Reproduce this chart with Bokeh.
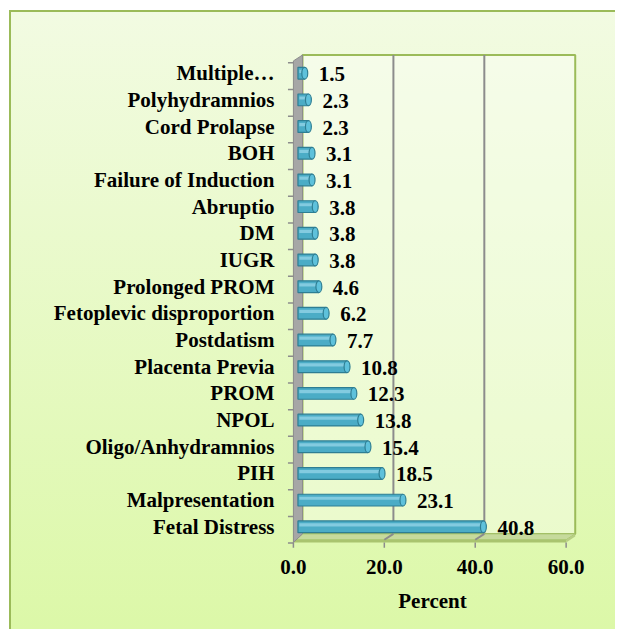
from bokeh.plotting import figure
from bokeh.models import FixedTicker, Range1d, ColumnDataSource
from bokeh.transform import dodge
from bokeh.embed import file_html
from bokeh.resources import INLINE
from bokeh.core.properties import value

# ---- data (bottom to top) ----
categories = ["Fetal Distress", "Malpresentation", "PIH", "Oligo/Anhydramnios", "NPOL",
              "PROM", "Placenta Previa", "Postdatism", "Fetoplevic disproportion",
              "Prolonged PROM", "IUGR", "DM", "Abruptio", "Failure of Induction", "BOH",
              "Cord Prolapse", "Polyhydramnios", "Multiple\u2026"]
percent = [40.8, 23.1, 18.5, 15.4, 13.8, 12.3, 10.8, 7.7, 6.2, 4.6, 3.8, 3.8, 3.8,
           3.1, 3.1, 2.3, 2.3, 1.5]
x_ticks = [0, 20, 40, 60]
x_tick_labels = ["0.0", "20.0", "40.0", "60.0"]
x_title = "Percent"

FONT = value("Liberation Serif")
FSIZE = "21px"
XMAX = x_ticks[-1]
DX = 1        # half depth of the 3-D box in x units
DY = 0.11     # half depth of the 3-D box in y units
FLOOR = -0.375
TOP = len(categories) - 0.43
SLAB = 0.1

ypos = list(range(len(categories)))
src = ColumnDataSource(dict(y=ypos, v=percent, lbl=[f"{v:.1f}" for v in percent]))

p = figure(frame_width=300, frame_height=503,
           x_range=Range1d(-3.4, 62.6), y_range=Range1d(-0.85, 18.0),
           output_backend="svg", toolbar_location=None,
           min_border_left=271, min_border_top=34, min_border_right=33, min_border_bottom=80,
           background_fill_color=None, border_fill_color=None, outline_line_color=None)
p.styles = {"background": "linear-gradient(to bottom, #F2FBE2, #DCF8A8)",
            "border-left": "2px solid #9BBB59", "border-top": "2px solid #9BBB59",
            "margin-left": "9px", "margin-top": "10px"}
p.xgrid.visible = False
p.ygrid.visible = False

# back wall
p.quad(left=DX, right=XMAX + DX, bottom=FLOOR + DY, top=TOP + DY,
       fill_color="white", fill_alpha=0.35, line_color="#9BBB59", line_width=2)
grid_x = [t for t in x_ticks if 0 < t < XMAX]
p.segment(x0=[t + DX for t in grid_x], y0=FLOOR + DY, x1=[t + DX for t in grid_x], y1=TOP + DY,
          line_color="#8C8C8C", line_width=2)
# floor
p.patch(x=[-DX, XMAX - DX, XMAX + DX, DX], y=[FLOOR - DY, FLOOR - DY, FLOOR + DY, FLOOR + DY],
        fill_color="#C6DA9C", line_color="#A9C46F", line_width=1)
p.quad(left=-DX, right=XMAX - DX, top=FLOOR - DY, bottom=FLOOR - DY - SLAB,
       fill_color="#A9C46F", line_color=None)
p.patch(x=[XMAX - DX, XMAX + DX, XMAX + DX, XMAX - DX],
        y=[FLOOR - DY, FLOOR + DY, FLOOR + DY - SLAB, FLOOR - DY - SLAB],
        fill_color="#B7CE84", line_color=None)
p.segment(x0=[t + DX for t in grid_x], y0=FLOOR + DY, x1=[t - DX for t in grid_x], y1=FLOOR - DY,
          line_color="#8C8C8C", line_width=2)
# left wall
p.patch(x=[-DX, DX, DX, -DX], y=[FLOOR - DY - SLAB, FLOOR + DY, TOP + DY, TOP - DY],
        fill_color="#A6A6A6", line_color="#8C8C8C", line_width=1)
# tick marks
bounds = [i - 0.5 for i in range(len(categories) + 1)]
p.segment(x0=-DX - 1.2, x1=-DX, y0=[b - DY for b in bounds], y1=[b - DY for b in bounds],
          line_color="#8C8C8C", line_width=1.5)
p.segment(x0=[t - DX for t in x_ticks], x1=[t - DX for t in x_ticks],
          y0=FLOOR - DY - SLAB, y1=FLOOR - DY - SLAB - 0.2,
          line_color="#8C8C8C", line_width=1.5)

# bars (cylinders)
p.hbar(y="y", left=0, right="v", height=0.44, fill_color="#4BACC6",
       line_color="#2E7E93", line_width=1.2, source=src)
p.hbar(y=dodge("y", 0.07), left=0.3, right="v", height=0.12, fill_color="#95D6E8",
       fill_alpha=0.75, line_color=None, source=src)
p.ellipse(x="v", y="y", width=1.3, height=0.44, fill_color="#5EC1DB",
          line_color="#2E7E93", line_width=1.2, source=src)

# value labels
p.text(x="v", y="y", text="lbl", x_offset=14, y_offset=1, text_baseline="middle",
       text_align="left", text_font=FONT, text_font_style="bold",
       text_font_size=FSIZE, text_color="black", source=src)

# axes
for ax in (p.xaxis, p.yaxis):
    ax.axis_line_color = None
    ax.major_tick_line_color = None
    ax.minor_tick_line_color = None
    ax.major_tick_out = 0
    ax.major_tick_in = 0
    ax.major_label_text_font = "Liberation Serif"
    ax.major_label_text_font_style = "bold"
    ax.major_label_text_font_size = FSIZE
    ax.major_label_text_color = "black"

p.xaxis.ticker = FixedTicker(ticks=[t - DX for t in x_ticks])
p.xaxis.major_label_overrides = {t - DX: l for t, l in zip(x_ticks, x_tick_labels)}
p.xaxis.major_label_standoff = 10
p.xaxis.axis_label = x_title
p.xaxis.axis_label_text_font = "Liberation Serif"
p.xaxis.axis_label_text_font_style = "bold"
p.xaxis.axis_label_text_font_size = FSIZE
p.xaxis.axis_label_text_color = "black"
p.xaxis.axis_label_standoff = 12

p.yaxis.ticker = FixedTicker(ticks=ypos)
p.yaxis.major_label_overrides = {i: c for i, c in zip(ypos, categories)}
p.yaxis.major_label_standoff = 8

open("out.html", "w").write(file_html(p, INLINE))
